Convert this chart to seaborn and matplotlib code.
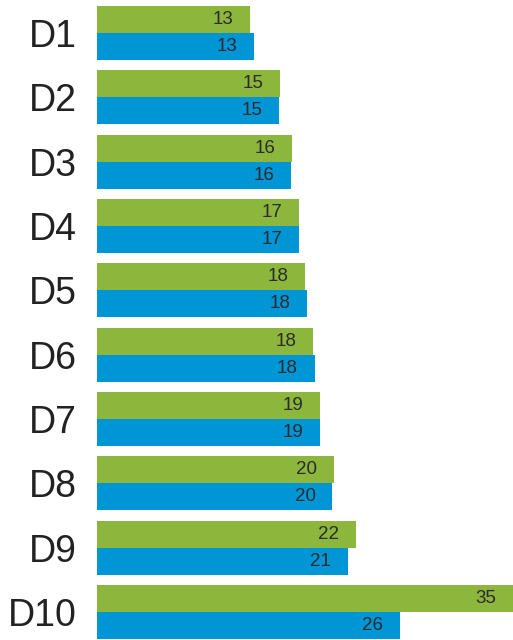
import seaborn as sns
import matplotlib.pyplot as plt
import pandas as pd

# deciles and the two series (green on top, blue below)
deciles = ['D1', 'D2', 'D3', 'D4', 'D5', 'D6', 'D7', 'D8', 'D9', 'D10']
green_vals = [12.9, 15.4, 16.4, 17.0, 17.5, 18.2, 18.8, 19.9, 21.8, 35.0]
blue_vals = [13.2, 15.3, 16.3, 17.0, 17.7, 18.3, 18.8, 19.8, 21.1, 25.5]
series = ['Green', 'Blue']

green = '#8db63c'
blue = '#0096d6'

df = pd.DataFrame({
    'Decile': deciles * 2,
    'Value': green_vals + blue_vals,
    'Series': [series[0]] * len(deciles) + [series[1]] * len(deciles),
})

plt.rcParams['font.family'] = ['Liberation Sans', 'DejaVu Sans']

fig = plt.figure(figsize=(5.13, 6.4), dpi=100)
ax = fig.add_axes([97/513, 0, 416/513, 1])

sns.barplot(data=df, x='Value', y='Decile', hue='Series', orient='h',
            order=deciles, hue_order=series, palette=[green, blue],
            saturation=1, width=0.84, gap=0, linewidth=0, legend=False, ax=ax)

ax.set_xlim(0, 35)
ax.set_ylim(9.435, -0.513)

# value labels inside the bar end
for cont in ax.containers:
    for bar in cont:
        w = bar.get_width()
        ax.annotate(f'{w:.0f}', xy=(w, bar.get_y() + bar.get_height()/2),
                    xytext=(-12, 0), textcoords='offset points',
                    ha='right', va='center', fontsize=13.5, color='#2b2b2b')

for s in ax.spines.values():
    s.set_visible(False)
ax.set_xticks([])
ax.set_xlabel('')
ax.set_ylabel('')
ax.tick_params(axis='y', length=0, pad=14.5, labelsize=27, labelcolor='#222222')

plt.savefig('out.png', dpi=100)
